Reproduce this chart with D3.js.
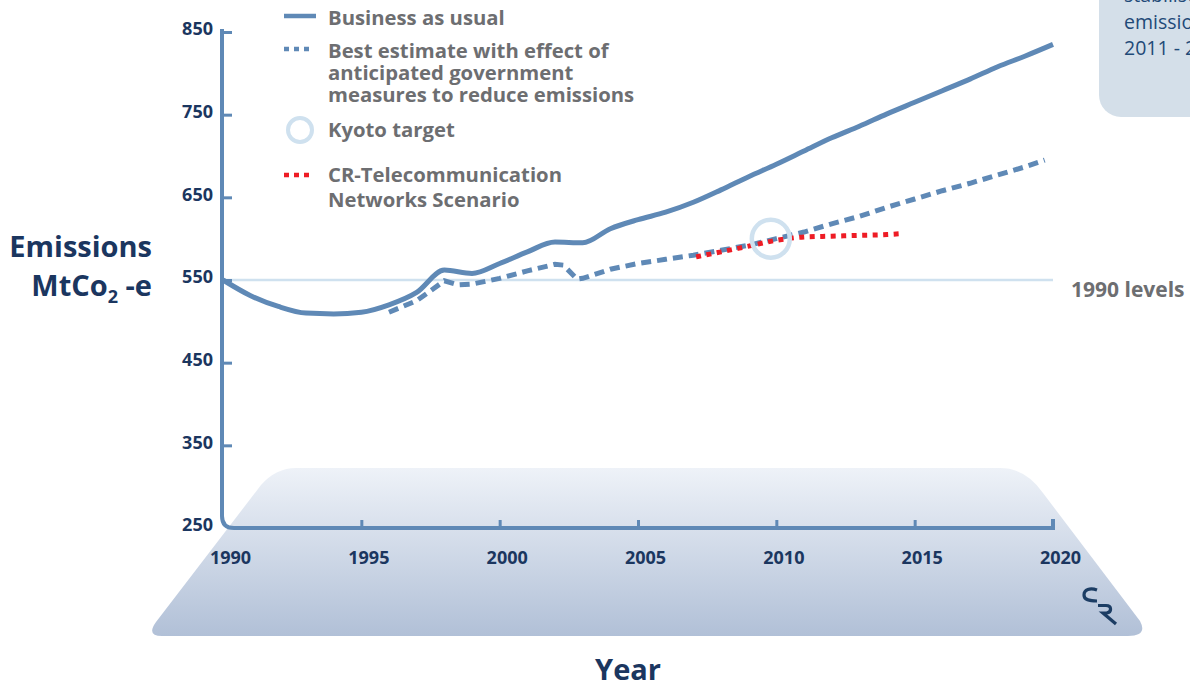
<!DOCTYPE html>
<html><head><meta charset="utf-8">
<script src="https://cdn.jsdelivr.net/npm/d3@7/dist/d3.min.js"></script>
<style>
body{margin:0;background:#fff;overflow:hidden}
text{font-family:"Open Sans","Noto Sans",sans-serif}
</style>
</head><body><svg id="chart" width="1190" height="688"></svg>
<script>
// ---------- data ----------
const bauYears = [1990,1991,1992,1993,1994,1995,1996,1997,1998,1999,2000,2001,2002,2003,2004,2005,2006,2007,2008,2009,2010,2011,2012,2013,2014,2015,2016,2017,2018,2019,2020];
const businessAsUsual = [550,531,518,510,509,511,520,535,562,558,570,584,596,595,612,623,632,644,659,675,690,706,722,736,751,765,779,793,808,821,835];

const bestYears = [1996,1997,1998,1998.5,1999,2000,2001,2002,2002.3,2002.8,2003,2004,2005,2006,2007,2008,2009,2010,2011,2012,2013,2014,2015,2016,2017,2018,2019,2019.7];
const bestEstimate = [511,525,549,544,545,552,561,569,568,551,552,563,570,575,580,586,592,600,608,618,627,638,648,658,667,677,687,695];

const crYears = [2007.1,2008,2009,2010,2011,2012,2013,2014,2014.5];
const crScenario = [578,584,591,598,602,603,604,605,606];

const kyotoYear = [2009.8];
const kyotoValue = [600];

const level1990 = [550];

const yTickValues = [250,350,450,550,650,750,850];
const xTickValues = [1990,1995,2000,2005,2010,2015,2020];

const legendLabels = [
  ["Business as usual"],
  ["Best estimate with effect of","anticipated government","measures to reduce emissions"],
  ["Kyoto target"],
  ["CR-Telecommunication","Networks Scenario"]
];
const boxText = ["stabilise","emissions","2011 - 2020"];

// ---------- styles ----------
const BLUE = "#5f89b6", LIGHT = "#cfe1ef", RED = "#ee1c25", NAVY = "#1b365f", GRAY = "#6d6e71";

const svg = d3.select("#chart");
const x = d3.scaleLinear().domain([1990,2020]).range([223,1053]);
const y = d3.scaleLinear().domain([250,850]).range([528,32]);

// gradient platform
const defs = svg.append("defs");
const g = defs.append("linearGradient").attr("id","plat").attr("x1",0).attr("y1",0).attr("x2",0).attr("y2",1);
g.append("stop").attr("offset","0%").attr("stop-color","#eef2f8");
g.append("stop").attr("offset","100%").attr("stop-color","#b1c0d7");
svg.append("path")
  .attr("d","M162,636 L1128,636 Q1148,636 1140,621 L1043,493 Q1026,468 1000,468 L296,468 Q276,468 261,485 L156,622 Q146,636 162,636 Z")
  .attr("fill","url(#plat)");

// top-right box
svg.append("rect").attr("x",1099).attr("y",-30).attr("width",140).attr("height",147).attr("rx",22).attr("fill","#d4dfe9");
svg.append("g").selectAll("text").data(boxText).join("text")
  .attr("x",1124).attr("y",(d,i)=>2+i*26.5).attr("font-size",19.5).attr("fill","#1f4a78").text(d=>d);

// 1990 level line
svg.append("line").attr("x1",x(1990)-1).attr("x2",x(2020)).attr("y1",y(level1990[0])).attr("y2",y(level1990[0]))
  .attr("stroke",LIGHT).attr("stroke-width",2.5);
svg.append("text").attr("x",1071).attr("y",y(level1990[0])+17).attr("font-size",21).attr("font-weight",700)
  .attr("fill",GRAY).text("1990 levels");

// axes
const yAxis = d3.axisLeft(y).tickValues(yTickValues).tickSizeInner(-10).tickSizeOuter(0).tickPadding(9).tickFormat(d3.format("d"));
const ya = svg.append("g").attr("transform",`translate(${x(1990)-1},0)`).call(yAxis);
ya.select(".domain").remove();
ya.selectAll(".tick line").attr("stroke",BLUE).attr("stroke-width",3).filter(d=>d===250).remove();
ya.selectAll(".tick text").attr("font-size",18).attr("font-weight",700).attr("fill",NAVY).attr("font-family","'Open Sans',sans-serif").attr("y",-3);

const xAxis = d3.axisBottom(x).tickValues(xTickValues).tickSizeInner(-8).tickSizeOuter(0).tickPadding(23).tickFormat(d3.format("d"));
const xa = svg.append("g").attr("transform",`translate(0,${y(250)})`).call(xAxis);
xa.select(".domain").remove();
xa.selectAll(".tick line").attr("stroke",BLUE).attr("stroke-width",3).filter(d=>d===1990).remove();
xa.selectAll(".tick text").attr("font-size",18).attr("font-weight",700).attr("fill",NAVY).attr("font-family","'Open Sans',sans-serif").attr("dx",7);

const ax0 = x(1990)-1, ay0 = y(250);
svg.append("path")
  .attr("d",`M${ax0},${y(850)-3} L${ax0},${ay0-12} Q${ax0},${ay0} ${ax0+12},${ay0} L${x(2020)},${ay0} L${x(2020)},${ay0-9}`)
  .attr("fill","none").attr("stroke",BLUE).attr("stroke-width",4);

// lines
const bauLine = d3.line().x((d,i)=>x(bauYears[i])).y(d=>y(d)).curve(d3.curveMonotoneX);
svg.append("path").attr("d",bauLine(businessAsUsual)).attr("fill","none").attr("stroke",BLUE).attr("stroke-width",5);

const bestLine = d3.line().x((d,i)=>x(bestYears[i])).y(d=>y(d));
svg.append("path").attr("d",bestLine(bestEstimate)).attr("fill","none").attr("stroke",BLUE).attr("stroke-width",5)
  .attr("stroke-dasharray","10,6");

const crLine = d3.line().x((d,i)=>x(crYears[i])).y(d=>y(d)).curve(d3.curveMonotoneX);
svg.append("path").attr("d",crLine(crScenario)).attr("fill","none").attr("stroke",RED).attr("stroke-width",5)
  .attr("stroke-dasharray","5,5.5");

svg.append("circle").attr("cx",x(kyotoYear[0])).attr("cy",y(kyotoValue[0])).attr("r",19)
  .attr("fill","none").attr("stroke",LIGHT).attr("stroke-width",4.5);

// legend
const lg = svg.append("g");
lg.append("line").attr("x1",284).attr("x2",316).attr("y1",16).attr("y2",16).attr("stroke",BLUE).attr("stroke-width",4.5);
lg.append("line").attr("x1",284).attr("x2",314).attr("y1",49).attr("y2",49).attr("stroke",BLUE).attr("stroke-width",4.5).attr("stroke-dasharray","5,5");
lg.append("circle").attr("cx",300).attr("cy",130).attr("r",12).attr("fill","none").attr("stroke",LIGHT).attr("stroke-width",4);
lg.append("line").attr("x1",284).attr("x2",314).attr("y1",175).attr("y2",175).attr("stroke",RED).attr("stroke-width",4.5).attr("stroke-dasharray","5,5");
const legendBase = [25,58,137,182];
const legendStep = [22,22,22,25];
legendLabels.forEach((lines,k)=>{
  lg.append("g").selectAll("text").data(lines).join("text")
    .attr("x",328).attr("y",(d,i)=>legendBase[k]+i*legendStep[k])
    .attr("font-size",20.3).attr("font-weight",700).attr("fill",GRAY).text(d=>d);
});

// axis titles
svg.append("text").attr("x",152).attr("y",257).attr("text-anchor","end").attr("font-size",29).attr("font-weight",700).attr("fill",NAVY).text("Emissions");
const t2 = svg.append("text").attr("x",152).attr("y",296).attr("text-anchor","end").attr("font-size",29).attr("font-weight",700).attr("fill",NAVY);
t2.append("tspan").text("MtCo");
t2.append("tspan").attr("font-size",18).attr("dy",7).text("2");
t2.append("tspan").attr("dy",-7).text(" -e");
svg.append("text").attr("x",628).attr("y",680).attr("text-anchor","middle").attr("font-size",29).attr("font-weight",700).attr("fill",NAVY).text("Year");

// CR logo
const logo = svg.append("g").attr("fill","none").attr("stroke","#1c3d64").attr("stroke-width",3.2);
logo.append("path").attr("d","M1097,590 C1090,587.5 1084,589.5 1084,595 C1084,600 1089,601 1097,601");
logo.append("path").attr("d","M1098,605.5 L1106,605.5 C1112,605.5 1112,612.5 1106.5,613 L1103,613 L1116,624");
</script>
</body></html>
